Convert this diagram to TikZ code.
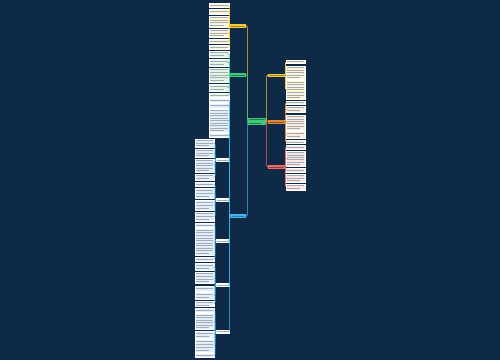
\documentclass[tikz,border=0pt]{standalone}
\definecolor{bg}{HTML}{0E2A46}
\definecolor{cyel}{HTML}{F2CB3F}
\definecolor{cgrn}{HTML}{3DCB79}
\definecolor{cblu}{HTML}{45B2F2}
\definecolor{corg}{HTML}{DD8A3E}
\definecolor{cred}{HTML}{EE6B6B}
\definecolor{lyel}{HTML}{FFF5D6}
\definecolor{lgrn}{HTML}{E2F6E8}
\definecolor{lblu}{HTML}{E0EFFA}
\definecolor{lorg}{HTML}{FCECDB}
\definecolor{lred}{HTML}{FDE5E5}
\definecolor{txtc}{HTML}{A3ABB4}
\newcommand\leaf[7]{%
  \node[leafbox, fill=#6, minimum width={(#3-#2)*1pt}, minimum height={(#5-#4)*1pt}] (#1) at ({(#2+#3)/2},{(#4+#5)/2}) {};
  \pgfmathtruncatemacro\nl{max(1,floor((#5-#4-0.6)/2.4))}%
  \foreach \i in {1,...,\nl}{\draw[txtline,#7] ({#2+1.4},{#4+0.3+(\i-0.5)*(#5-#4-0.6)/\nl}) -- ({#3-1.4-(\i==\nl)*(\nl>1)*4},{#4+0.3+(\i-0.5)*(#5-#4-0.6)/\nl});}%
}
\begin{document}
\begin{tikzpicture}[x=1pt,y=-1pt,
  leafbox/.style={draw=white, line width=0.5pt, inner sep=0pt, outer sep=0pt},
  txtline/.style={line width=0.7pt, txtc},
  ytxt/.style={line width=0.4pt, cyel!65!black},
  gtxt/.style={line width=0.4pt, cgrn!60!black},
  btxt/.style={line width=0.4pt, cblu!70!black},
  otxt/.style={line width=0.4pt, corg!60!black},
  rtxt/.style={line width=0.4pt, cred!60!black},
  conn/.style={line width=0.6pt, rounded corners=1pt}]
\useasboundingbox (0,0) rectangle (500,360);
\fill[bg] (0,0) rectangle (500,360);
% central
\leaf{C}{248}{266}{117.5}{125}{cgrn,draw=none}{gtxt}
% left level 1
\leaf{LY}{230}{246}{24}{28}{cyel,draw=none}{ytxt}
\leaf{LG}{230}{246}{73}{77}{cgrn,draw=none}{gtxt}
\leaf{LB}{230}{246}{214}{218}{cblu,draw=none}{btxt}
% right level 1
\leaf{RY}{268}{285}{73.5}{77}{cyel,draw=none}{ytxt}
\leaf{RO}{268}{285}{120}{123.5}{corg,draw=none}{otxt}
\leaf{RR}{268}{285}{165}{168.5}{cred,draw=none}{rtxt}
% left yellow leaves
\leaf{ly1}{209}{229}{3}{7}{lyel}{}
\leaf{ly2}{209}{229}{9}{14}{lyel}{}
\leaf{ly3}{209}{229}{16}{27}{lyel}{}
\leaf{ly4}{209}{229}{29}{37}{lyel}{}
\leaf{ly5}{209}{229}{39}{43}{lyel}{}
\leaf{ly6}{209}{229}{45}{49}{lyel}{}
% left green leaves
\leaf{lg1}{209}{229}{51}{57}{lgrn}{}
\leaf{lg2}{209}{229}{59}{66}{lgrn}{}
\leaf{lg3}{209}{229}{68}{82}{lgrn}{}
\leaf{lg4}{209}{229}{84}{91}{lgrn}{}
\leaf{lg5}{209}{229}{93}{97}{lgrn}{}
% blue direct leaves
\leaf{lb1}{209}{229}{98.5}{102}{lblu}{}
\leaf{lb2}{209}{229}{103}{108}{lblu}{}
\leaf{lb3}{209}{229}{109}{132}{lblu}{}
\leaf{lb4}{209}{229}{133}{137}{lblu}{}
% blue sub nodes
\leaf{s1}{216}{229}{158.5}{161.5}{white}{}
\leaf{s2}{216}{229}{198.5}{201.5}{white}{}
\leaf{s3}{216}{229}{239.5}{242.5}{white}{}
\leaf{s4}{216}{229}{283.5}{286.5}{white}{}
\leaf{s5}{216}{229}{330}{333}{white}{}
% sub 1 leaves
\leaf{s1a}{195}{214}{139}{147}{lblu}{}
\leaf{s1b}{195}{214}{149}{157}{lblu}{}
\leaf{s1c}{195}{214}{159}{172}{lblu}{}
\leaf{s1d}{195}{214}{174}{180}{lblu}{}
% sub 2 leaves
\leaf{s2a}{195}{214}{182}{186}{lblu}{}
\leaf{s2b}{195}{214}{188}{198}{lblu}{}
\leaf{s2c}{195}{214}{200}{210}{lblu}{}
\leaf{s2d}{195}{214}{212}{221.5}{lblu}{}
% sub 3 leaves
\leaf{s3a}{195}{214}{223}{227}{lblu}{}
\leaf{s3b}{195}{214}{228.5}{255}{lblu}{}
\leaf{s3c}{195}{214}{257}{261}{lblu}{}
% sub 4 leaves
\leaf{s4a}{195}{214}{263}{270}{lblu}{}
\leaf{s4b}{195}{214}{272}{283.5}{lblu}{}
\leaf{s4c}{195}{214}{286}{291}{lblu}{}
\leaf{s4d}{195}{214}{292.5}{299}{lblu}{}
\leaf{s4e}{195}{214}{301}{306.5}{lblu}{}
% sub 5 leaves
\leaf{s5a}{195}{214}{308}{312}{lblu}{}
\leaf{s5b}{195}{214}{313.5}{329}{lblu}{}
\leaf{s5c}{195}{214}{331}{338}{lblu}{}
\leaf{s5d}{195}{214}{339.5}{352}{lblu}{}
\leaf{s5e}{195}{214}{353.5}{357.5}{lblu}{}
% right yellow leaves
\leaf{ry1}{286}{305}{60}{63.5}{lyel}{}
\leaf{ry2}{286}{305}{66}{79}{lyel}{}
\leaf{ry3}{286}{305}{80.5}{99}{lyel}{}
% right orange leaves
\leaf{ro1}{286}{305}{101}{104.5}{lorg}{}
\leaf{ro2}{286}{305}{106}{112.5}{lorg}{}
\leaf{ro3}{286}{305}{115}{130}{lorg}{}
\leaf{ro4}{286}{305}{131.5}{138}{lorg}{}
\leaf{ro5}{286}{305}{140.5}{143.5}{lorg}{}
% right red leaves
\leaf{rr1}{286}{305}{145}{149}{lred}{}
\leaf{rr2}{286}{305}{151}{166}{lred}{}
\leaf{rr3}{286}{305}{168}{172}{lred}{}
\leaf{rr4}{286}{305}{174}{182}{lred}{}
\leaf{rr5}{286}{305}{184}{190}{lred}{}
% connectors central -> level 1
\foreach \n/\c in {LY/cyel,LG/cgrn,LB/cblu}{\draw[conn,\c] (C.west) -- ++(-0.6,0) |- (\n.east);}
\foreach \n/\c in {RY/cyel,RO/corg,RR/cred}{\draw[conn,\c] (C.east) -- ++(0.6,0) |- (\n.west);}
% level 1 -> leaves
\foreach \n in {ly1,ly2,ly3,ly4,ly5,ly6}{\draw[conn,cyel] (LY.west) -- ++(-0.6,0) |- (\n.east);}
\foreach \n in {lg1,lg2,lg3,lg4,lg5}{\draw[conn,cgrn] (LG.west) -- ++(-0.6,0) |- (\n.east);}
\foreach \n in {lb1,lb2,lb3,lb4,s1,s2,s3,s4,s5}{\draw[conn,cblu] (LB.west) -- ++(-0.6,0) |- (\n.east);}
\foreach \n in {s1a,s1b,s1c,s1d}{\draw[conn,cblu] (s1.west) -- ++(-1,0) |- (\n.east);}
\foreach \n in {s2a,s2b,s2c,s2d}{\draw[conn,cblu] (s2.west) -- ++(-1,0) |- (\n.east);}
\foreach \n in {s3a,s3b,s3c}{\draw[conn,cblu] (s3.west) -- ++(-1,0) |- (\n.east);}
\foreach \n in {s4a,s4b,s4c,s4d,s4e}{\draw[conn,cblu] (s4.west) -- ++(-1,0) |- (\n.east);}
\foreach \n in {s5a,s5b,s5c,s5d,s5e}{\draw[conn,cblu] (s5.west) -- ++(-1,0) |- (\n.east);}
\foreach \n in {ry1,ry2,ry3}{\draw[conn,cyel] (RY.east) -- ++(0.5,0) |- (\n.west);}
\foreach \n in {ro1,ro2,ro3,ro4,ro5}{\draw[conn,corg] (RO.east) -- ++(0.5,0) |- (\n.west);}
\foreach \n in {rr1,rr2,rr3,rr4,rr5}{\draw[conn,cred] (RR.east) -- ++(0.5,0) |- (\n.west);}
\end{tikzpicture}
\end{document}
